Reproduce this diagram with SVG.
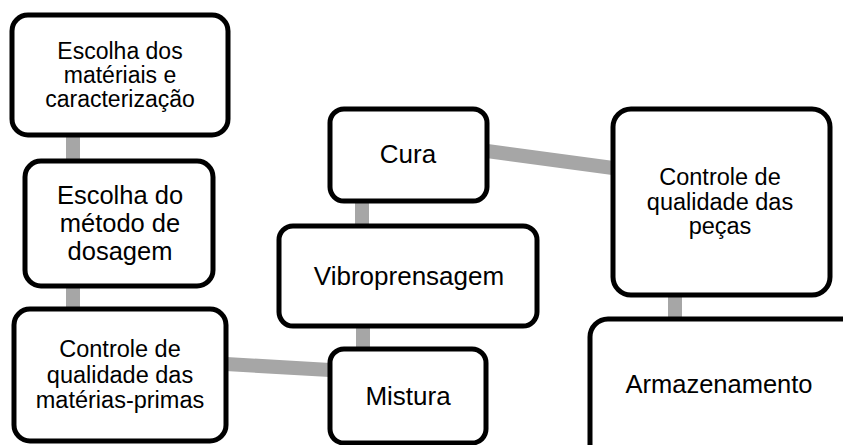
<svg xmlns="http://www.w3.org/2000/svg" width="843" height="445" viewBox="0 0 843 445">
<style>
.box{fill:#fff;stroke:#000;stroke-width:5}
.con{stroke:#a6a6a6;stroke-width:14;fill:none}
text{font-family:"Liberation Sans",Arial,sans-serif;fill:#000;text-anchor:middle}
</style>
<rect width="843" height="445" fill="#fff"/>
<g id="connectors">
<line class="con" x1="73" y1="135" x2="73" y2="161"/>
<line class="con" x1="73" y1="286" x2="73" y2="309"/>
<line class="con" x1="226" y1="364" x2="330" y2="370"/>
<line class="con" x1="363" y1="326" x2="363" y2="349"/>
<line class="con" x1="362" y1="201" x2="362" y2="226"/>
<line class="con" x1="487" y1="151" x2="613" y2="168"/>
<line class="con" x1="675" y1="295" x2="675" y2="319"/>
</g>
<g id="n1">
<rect class="box" x="12" y="15" width="216" height="120" rx="16"/>
<text font-size="23"><tspan x="120" y="59">Escolha dos</tspan><tspan x="120" y="83">matériais e</tspan><tspan x="120" y="107">caracterização</tspan></text>
</g>
<g id="n2">
<rect class="box" x="25" y="161" width="188" height="125" rx="16"/>
<text font-size="25.5"><tspan x="120" y="204">Escolha do</tspan><tspan x="120" y="232">método de</tspan><tspan x="120" y="260">dosagem</tspan></text>
</g>
<g id="n3">
<rect class="box" x="14" y="309" width="212" height="132" rx="16"/>
<text font-size="23.5"><tspan x="120" y="357">Controle de</tspan><tspan x="120" y="383">qualidade das</tspan><tspan x="120" y="408">matérias-primas</tspan></text>
</g>
<g id="n4">
<rect class="box" x="330" y="349" width="156" height="94" rx="14"/>
<text font-size="26" x="408" y="405">Mistura</text>
</g>
<g id="n5">
<rect class="box" x="279" y="226" width="258" height="100" rx="14"/>
<text font-size="26" x="409" y="285">Vibroprensagem</text>
</g>
<g id="n6">
<rect class="box" x="330" y="109" width="157" height="92" rx="14"/>
<text font-size="26" x="408" y="163">Cura</text>
</g>
<g id="n7">
<rect class="box" x="613" y="109" width="217" height="186" rx="18"/>
<text font-size="23.5"><tspan x="720" y="185">Controle de</tspan><tspan x="720" y="210">qualidade das</tspan><tspan x="720" y="234">peças</tspan></text>
</g>
<g id="n8">
<rect class="box" x="590" y="319" width="300" height="200" rx="18"/>
<text font-size="25.5" x="719" y="393">Armazenamento</text>
</g>
</svg>
